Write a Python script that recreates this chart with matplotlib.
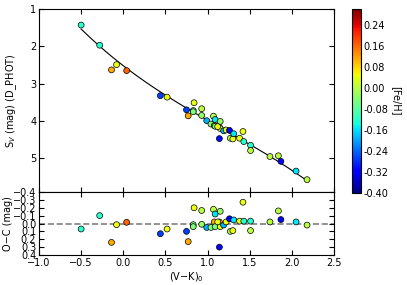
import numpy as np
import matplotlib
matplotlib.use("Agg")
import matplotlib.pyplot as plt

# (V-K)_0 colour, surface brightness S_V, O-C residual, [Fe/H]
vk = [-0.50, -0.28, -0.14, -0.08, 0.04, 0.44, 0.52, 0.75, 0.77, 0.84,
      0.83, 0.83, 0.93, 0.93, 0.99, 1.04, 1.07, 1.09, 1.08, 1.09,
      1.14, 1.15, 1.15, 1.19, 1.22, 1.12, 1.26, 1.27, 1.30, 1.31,
      1.38, 1.42, 1.43, 1.51, 1.51, 1.74, 1.84, 1.87, 2.05, 2.18, 1.14]
sv = [1.43, 1.97, 2.63, 2.49, 2.65, 3.32, 3.36, 3.70, 3.86, 3.51,
      3.72, 3.75, 3.67, 3.85, 3.99, 4.08, 3.87, 3.96, 4.12, 4.14,
      4.16, 4.01, 4.20, 4.26, 4.24, 4.15, 4.25, 4.46, 4.48, 4.34,
      4.46, 4.28, 4.55, 4.65, 4.79, 4.95, 4.93, 5.08, 5.34, 5.57, 4.47]
oc = [0.07, -0.10, 0.24, 0.015, -0.015, 0.13, 0.07, 0.10, 0.23, -0.20,
      0.015, 0.04, -0.165, 0.01, 0.05, 0.05, -0.18, -0.12, -0.02, 0.04,
      -0.02, -0.155, 0.04, 0.02, -0.02, -0.02, -0.06, 0.10, 0.09, -0.045,
      -0.03, -0.27, -0.03, -0.03, 0.09, -0.02, -0.16, -0.05, -0.02, 0.02, 0.30]
feh = [-0.12, -0.12, 0.11, 0.045, 0.165, -0.27, 0.045, -0.27, 0.11, 0.045,
       -0.05, -0.05, 0.0, -0.03, -0.19, -0.05, 0.0, -0.155, 0.11, -0.05,
       0.11, -0.03, 0.045, -0.19, 0.045, 0.045, -0.31, 0.0, 0.045, -0.155,
       0.045, 0.045, -0.12, -0.12, 0.0, 0.0, 0.0, -0.31, -0.155, 0.0, -0.31]
cbar_ticks = [-0.40, -0.32, -0.24, -0.16, -0.08, 0.00, 0.08, 0.16, 0.24]

vk_a = np.array(vk)
sv_a = np.array(sv)
oc_a = np.array(oc)
fit = np.polyfit(vk_a, sv_a - oc_a, 3)
xc = np.linspace(vk_a.min(), vk_a.max(), 200)
yc = np.polyval(fit, xc)

plt.rcParams['font.size'] = 7
plt.rcParams['xtick.direction'] = 'in'
plt.rcParams['ytick.direction'] = 'in'
plt.rcParams['xtick.top'] = True
plt.rcParams['ytick.right'] = True
plt.rcParams['xtick.major.pad'] = 2
plt.rcParams['ytick.major.pad'] = 2

fig = plt.figure(figsize=(4.07, 2.85), dpi=100)
W, H = 407.0, 285.0
l, r = 39 / W, 334 / W
ax1 = fig.add_axes([l, 1 - 192 / H, r - l, (192 - 9) / H])
ax2 = fig.add_axes([l, 1 - 255 / H, r - l, (255 - 192) / H])
cax = fig.add_axes([352 / W, 1 - 193 / H, 9 / W, (193 - 9) / H])

norm = matplotlib.colors.Normalize(vmin=-0.4, vmax=0.3)
ax1.plot(xc, yc, color='black', lw=0.8, zorder=1)
sc = ax1.scatter(vk, sv, c=feh, cmap='jet', norm=norm, s=18,
                 edgecolors='black', linewidths=0.5, zorder=2)
ax1.set_xlim(-1.0, 2.5)
ax1.set_ylim(5.9, 1.0)
ax1.set_yticks([1, 2, 3, 4, 5])
ax1.set_xticks(np.arange(-1.0, 2.51, 0.5))
ax1.tick_params(labelbottom=False)
ax1.set_ylabel(r'S$_V$ (mag) (D_PHOT)', labelpad=8)

ax2.axhline(0, color='grey', ls='--', lw=1.2, zorder=1)
ax2.scatter(vk, oc, c=feh, cmap='jet', norm=norm, s=18,
            edgecolors='black', linewidths=0.5, zorder=2)
ax2.set_xlim(-1.0, 2.5)
ax2.set_ylim(0.4, -0.4)
ax2.set_yticks(np.arange(-0.4, 0.41, 0.1))
ax2.set_xticks(np.arange(-1.0, 2.51, 0.5))
ax2.set_xlabel(r'(V$-$K)$_0$', labelpad=2)
ax2.set_ylabel('O\u2212C (mag)', labelpad=0)

cb = fig.colorbar(sc, cax=cax)
cb.set_ticks(cbar_ticks)
cb.ax.yaxis.set_major_formatter(matplotlib.ticker.FormatStrFormatter('%.2f'))
cb.ax.tick_params(right=False, left=False, pad=2)
cb.set_label('[Fe/H]', rotation=270, labelpad=9)

fig.savefig('out.png', dpi=100)
